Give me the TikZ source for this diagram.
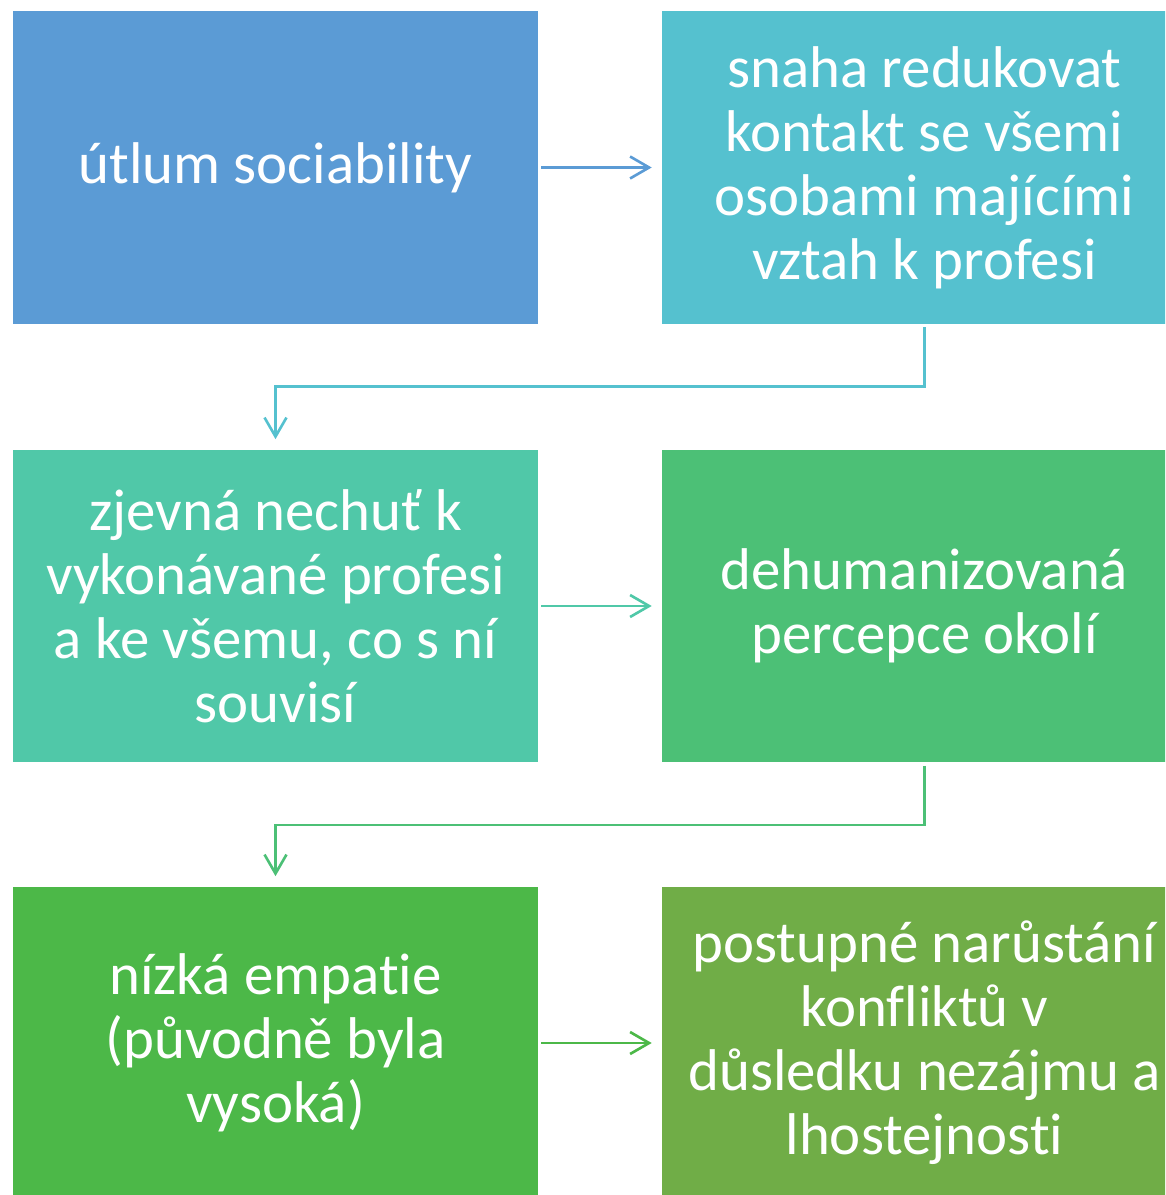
\documentclass[tikz,border=0pt]{standalone}
\usepackage{fontspec}
\setmainfont{Carlito}[Ligatures=NoCommon]
\usetikzlibrary{arrows.meta}
\definecolor{modra}{HTML}{5B9BD5}
\definecolor{tyrkys}{HTML}{55C1CF}
\definecolor{mentol}{HTML}{50C8A8}
\definecolor{zelena}{HTML}{4CC076}
\definecolor{trava}{HTML}{4CB848}
\definecolor{oliva}{HTML}{70AD47}

\begin{document}
\begin{tikzpicture}[x=0.02cm, y=-0.02cm,
  blok/.style={fill=#1, minimum width=10.5cm, minimum height=6.26cm, inner sep=0pt,
    text=white, align=center, font=\fontsize{33.5}{36.4}\selectfont},
  sipka/.style={draw=#1, line width=1.5pt, shorten <=0.06cm, shorten >=0.2cm,
    -{Straight Barb[length=0.38cm, width=0.44cm]}}]
  \clip (0,0) rectangle (1165,1195);
  % bloky
  \node[blok=modra]  (utlum)  at (275.5,167.5) {útlum sociability};
  \node[blok=tyrkys] (snaha)  at (924.5,167.5) {snaha redukovat\\kontakt se všemi\\osobami majícími\\vztah k profesi};
  \node[blok=mentol] (nechut) at (275.5,606)   {zjevná nechuť k\\vykonávané profesi\\a ke všemu, co s ní\\souvisí};
  \node[blok=zelena] (dehum)  at (924.5,606)   {dehumanizovaná\\percepce okolí};
  \node[blok=trava]  (empat)  at (275.5,1043)  {nízká empatie\\(původně byla\\vysoká)};
  \node[blok=oliva]  (konfl)  at (924.5,1043)  {postupné narůstání\\konfliktů v\\důsledku nezájmu a\\lhostejnosti};
  % spojnice
  \draw[sipka=modra]  (utlum) -- (snaha);
  \draw[sipka=tyrkys] (snaha.south) -- ++(0,62) -| (nechut.north);
  \draw[sipka=mentol] (nechut) -- (dehum);
  \draw[sipka=zelena] (dehum.south) -- ++(0,62) -| (empat.north);
  \draw[sipka=trava]  (empat) -- (konfl);
\end{tikzpicture}
\end{document}
